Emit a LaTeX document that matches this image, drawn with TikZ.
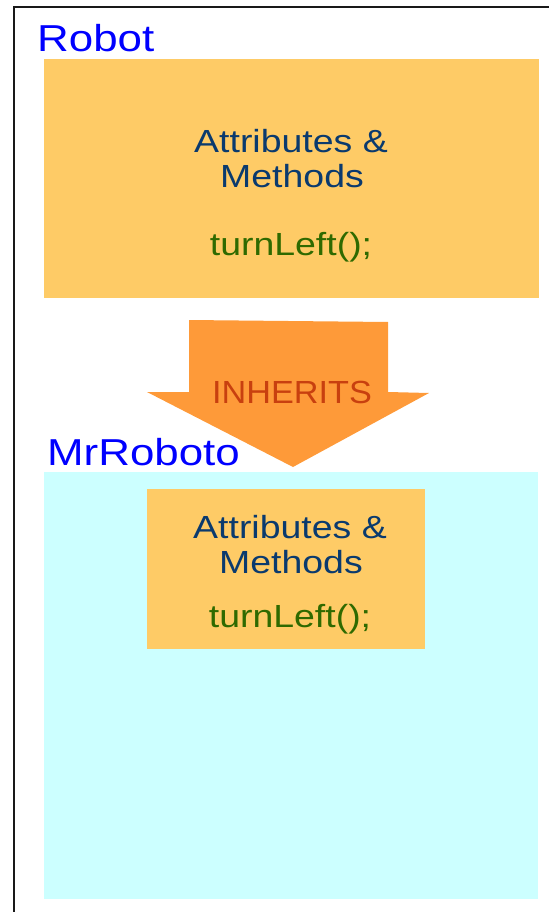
\documentclass[tikz,border=0pt]{standalone}
\usepackage{fontspec}
\setmainfont{Liberation Sans}[FakeStretch=1.17]
\newfontfamily\inhfont{Liberation Sans}[FakeStretch=1.07]
\definecolor{classfill}{HTML}{FECB66}
\definecolor{subfill}{HTML}{CCFFFF}
\definecolor{arrowfill}{HTML}{FE9A39}
\definecolor{inhtext}{HTML}{C8400F}
\definecolor{labelblue}{HTML}{0000FF}
\definecolor{membertext}{HTML}{0A3A6E}
\definecolor{methodtext}{HTML}{2F6A00}
\tikzset{
  box/.style={inner sep=0pt, anchor=north west},
  classname/.style={anchor=base west, inner sep=0pt, text=labelblue, font=\fontsize{37.5}{42}\selectfont},
  member/.style={anchor=base, inner sep=0pt, text=membertext, font=\fontsize{32}{36}\selectfont},
  method/.style={anchor=base, inner sep=0pt, text=methodtext, font=\fontsize{32}{36}\selectfont},
  frame/.style={line width=2.8pt, black!90}
}
\begin{document}
\begin{tikzpicture}[x=1pt, y=-1pt]
\useasboundingbox (0,0) rectangle (549,912);

% outer frame (top and left edges)
\coordinate (fl) at (14,912);
\coordinate (fc) at (14,7);
\coordinate (fr) at (549,7);
\draw[frame] (fl) -- (fc) -- (fr);

% Robot class
\node[box, fill=classfill, minimum width=495pt, minimum height=239pt] (robot) at (44,59) {};
\node[classname] (robotname) at (37,52) {Robot};
\node[member] (ra1) at (291,153) {Attributes \&};
\node[member] (ra2) at (292,187) {Methods};
\node[method] (rm) at (291,255) {turnLeft();};

% MrRoboto class
\node[box, fill=subfill, minimum width=494pt, minimum height=427pt] (mr) at (44,472) {};
\node[box, fill=classfill, minimum width=278pt, minimum height=160pt] (inner) at (147,489) {};
\node[member] (ma1) at (290,538) {Attributes \&};
\node[member] (ma2) at (291,573) {Methods};
\node[method] (mm) at (290,627) {turnLeft();};

% inheritance arrow
\fill[arrowfill] (189,320) -- (388,322) -- (388,392) -- (429,393) -- (293,467)
  -- (147,392) -- (189,392) -- cycle;
\node[anchor=base, inner sep=0pt, text=inhtext, font=\inhfont\fontsize{32}{36}\selectfont] (inh) at (292,403) {INHERITS};

\node[classname] (mrname) at (47,465) {MrRoboto};
\end{tikzpicture}
\end{document}
